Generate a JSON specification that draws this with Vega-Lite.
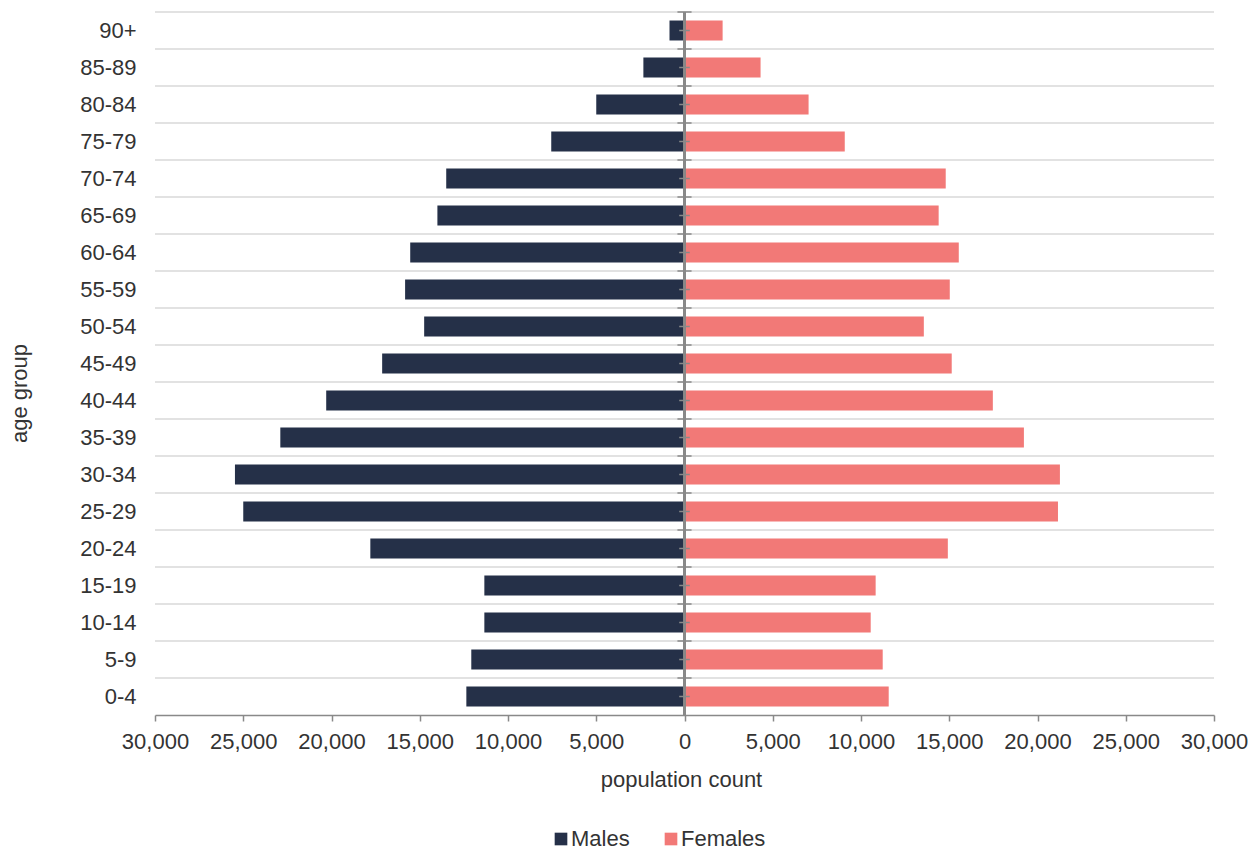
{
  "$schema": "https://vega.github.io/schema/vega-lite/v6.json",
  "width": 1059,
  "height": 703,
  "autosize": {"type": "none"},
  "padding": {"left": 155, "top": 12, "right": 46, "bottom": 135},
  "background": "white",
  "config": {
    "font": "Liberation Sans",
    "view": {"stroke": null}
  },
  "datasets": {
    "pop": [
      {"age": "90+", "sex": "Males", "population": -850},
      {"age": "85-89", "sex": "Males", "population": -2330},
      {"age": "80-84", "sex": "Males", "population": -5000},
      {"age": "75-79", "sex": "Males", "population": -7550},
      {"age": "70-74", "sex": "Males", "population": -13500},
      {"age": "65-69", "sex": "Males", "population": -14000},
      {"age": "60-64", "sex": "Males", "population": -15540},
      {"age": "55-59", "sex": "Males", "population": -15830},
      {"age": "50-54", "sex": "Males", "population": -14750},
      {"age": "45-49", "sex": "Males", "population": -17130},
      {"age": "40-44", "sex": "Males", "population": -20300},
      {"age": "35-39", "sex": "Males", "population": -22900},
      {"age": "30-34", "sex": "Males", "population": -25470},
      {"age": "25-29", "sex": "Males", "population": -25000},
      {"age": "20-24", "sex": "Males", "population": -17800},
      {"age": "15-19", "sex": "Males", "population": -11340},
      {"age": "10-14", "sex": "Males", "population": -11340},
      {"age": "5-9", "sex": "Males", "population": -12080},
      {"age": "0-4", "sex": "Males", "population": -12360},
      {"age": "90+", "sex": "Females", "population": 2160},
      {"age": "85-89", "sex": "Females", "population": 4310},
      {"age": "80-84", "sex": "Females", "population": 7030},
      {"age": "75-79", "sex": "Females", "population": 9080},
      {"age": "70-74", "sex": "Females", "population": 14800},
      {"age": "65-69", "sex": "Females", "population": 14400},
      {"age": "60-64", "sex": "Females", "population": 15540},
      {"age": "55-59", "sex": "Females", "population": 15030},
      {"age": "50-54", "sex": "Females", "population": 13560},
      {"age": "45-49", "sex": "Females", "population": 15140},
      {"age": "40-44", "sex": "Females", "population": 17470},
      {"age": "35-39", "sex": "Females", "population": 19230},
      {"age": "30-34", "sex": "Females", "population": 21270},
      {"age": "25-29", "sex": "Females", "population": 21160},
      {"age": "20-24", "sex": "Females", "population": 14920},
      {"age": "15-19", "sex": "Females", "population": 10830},
      {"age": "10-14", "sex": "Females", "population": 10550},
      {"age": "5-9", "sex": "Females", "population": 11230},
      {"age": "0-4", "sex": "Females", "population": 11570}
    ]
  },
  "data": {"name": "pop"},
  "layer": [
    {
      "mark": {"type": "rule", "color": "#D9D9D9", "strokeWidth": 1.5},
      "transform": [{"filter": "datum.sex == 'Males'"}],
      "encoding": {
        "y": {"field": "age", "type": "nominal", "bandPosition": 0,
              "sort": ["90+", "85-89", "80-84", "75-79", "70-74", "65-69", "60-64", "55-59", "50-54", "45-49", "40-44", "35-39", "30-34", "25-29", "20-24", "15-19", "10-14", "5-9", "0-4"]}
      }
    },
    {
      "mark": {"type": "bar", "height": {"band": 0.54}},
      "encoding": {
        "y": {
          "field": "age",
          "type": "nominal",
          "sort": ["90+", "85-89", "80-84", "75-79", "70-74", "65-69", "60-64", "55-59", "50-54", "45-49", "40-44", "35-39", "30-34", "25-29", "20-24", "15-19", "10-14", "5-9", "0-4"],
          "scale": {"paddingInner": 0, "paddingOuter": 0},
          "axis": {
            "title": "age group",
            "titleFontSize": 22,
            "titleFontWeight": "normal",
            "titleColor": "#333333",
            "titleX": -136,
            "titleY": 381,
            "titleAngle": -90,
            "titleBaseline": "middle",
            "titleAlign": "center",
            "labelFontSize": 22,
            "labelColor": "#333333",
            "labelPadding": 19,
            "ticks": false,
            "domain": false,
            "grid": false
          }
        },
        "x": {
          "field": "population",
          "type": "quantitative",
          "stack": null,
          "scale": {"domain": [-30000, 30000], "nice": false},
          "axis": {
            "title": "population count",
            "titleFontSize": 22,
            "titleFontWeight": "normal",
            "titleColor": "#333333",
            "titleX": 526,
            "titleY": 54,
            "titleBaseline": "top",
            "values": [-30000, -25000, -20000, -15000, -10000, -5000, 0, 5000, 10000, 15000, 20000, 25000, 30000],
            "labelExpr": "format(abs(datum.value), ',')",
            "labelFontSize": 22,
            "labelColor": "#333333",
            "labelPadding": 10,
            "labelFlush": false,
            "tickSize": 6,
            "tickColor": "#898989",
            "tickWidth": 1.5,
            "domainColor": "#898989",
            "domainWidth": 1.5,
            "grid": false
          }
        },
        "color": {
          "field": "sex",
          "type": "nominal",
          "scale": {"domain": ["Males", "Females"], "range": ["#253048", "#F27977"]},
          "legend": {
            "title": null,
            "orient": "none",
            "direction": "horizontal",
            "legendX": 395,
            "legendY": 816,
            "symbolType": "square",
            "symbolSize": 160,
            "symbolStrokeWidth": 0,
            "labelFontSize": 22,
            "labelColor": "#333333",
            "labelOffset": -1,
            "columnPadding": 30
          }
        }
      }
    },
    {
      "mark": {"type": "rule", "color": "#898989", "strokeWidth": 1.5},
      "transform": [{"filter": "datum.sex == 'Males'"}],
      "encoding": {
        "y": {"field": "age", "type": "nominal", "bandPosition": 0,
              "sort": ["90+", "85-89", "80-84", "75-79", "70-74", "65-69", "60-64", "55-59", "50-54", "45-49", "40-44", "35-39", "30-34", "25-29", "20-24", "15-19", "10-14", "5-9", "0-4"]},
        "x": {"datum": -400},
        "x2": {"datum": 400}
      }
    },
    {
      "mark": {"type": "rule", "color": "#898989", "strokeWidth": 1.5},
      "transform": [{"filter": "datum.sex == 'Males'"}],
      "encoding": {
        "y": {"field": "age", "type": "nominal", "bandPosition": 0.5,
              "sort": ["90+", "85-89", "80-84", "75-79", "70-74", "65-69", "60-64", "55-59", "50-54", "45-49", "40-44", "35-39", "30-34", "25-29", "20-24", "15-19", "10-14", "5-9", "0-4"]},
        "x": {"datum": -300},
        "x2": {"datum": 300}
      }
    },
    {
      "mark": {"type": "rule", "color": "#898989", "strokeWidth": 1.5},
      "encoding": {
        "x": {"datum": 0}
      }
    }
  ]
}
